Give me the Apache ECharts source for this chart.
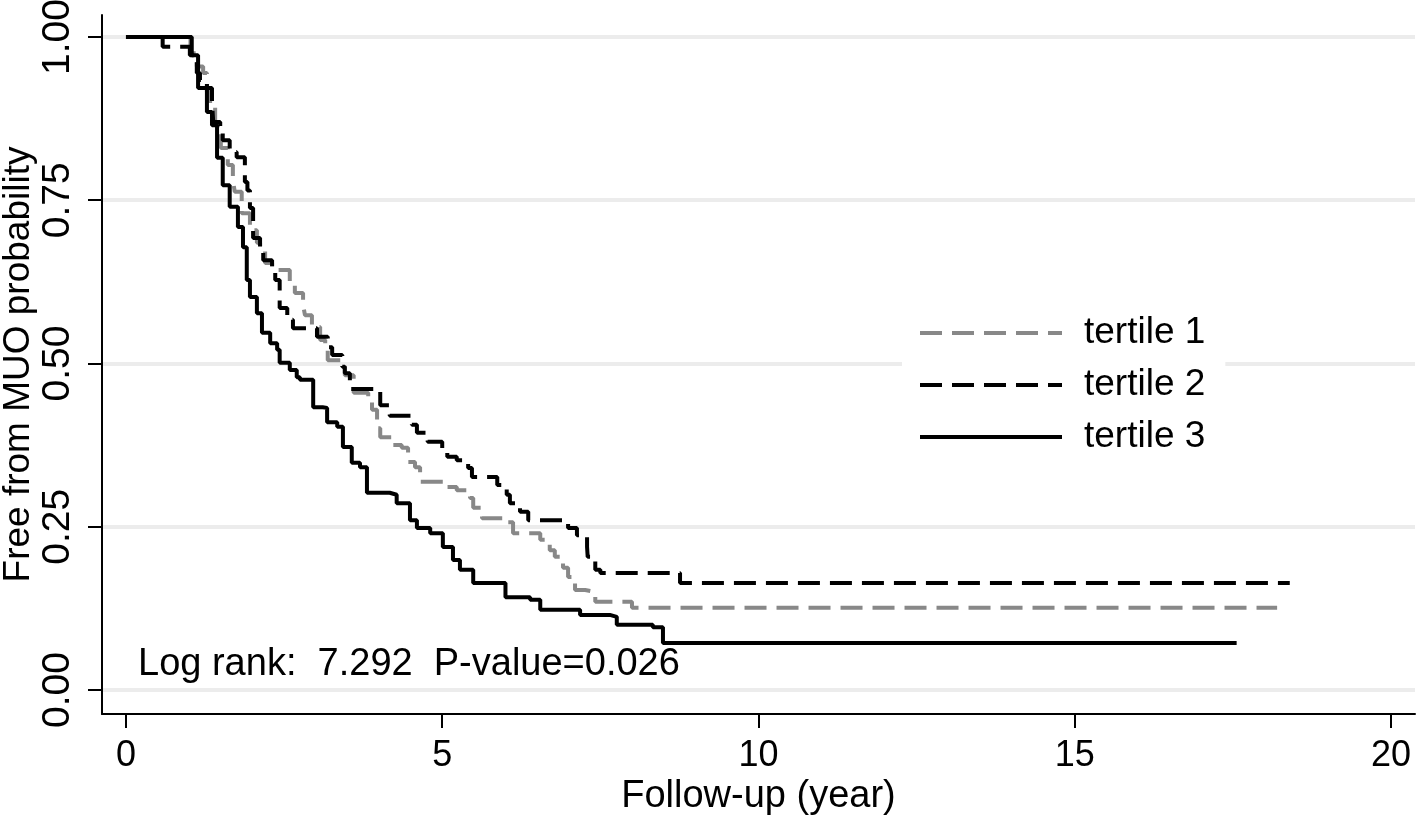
<!DOCTYPE html>
<html>
<head>
<meta charset="utf-8">
<script src="https://cdn.jsdelivr.net/npm/echarts@6/dist/echarts.min.js"></script>
<style>
html,body{margin:0;padding:0;background:#fff;}
#c{width:1416px;height:818px;}
</style>
</head>
<body>
<div id="c"></div>
<script>
// ---- data ----
const seriesNames = ['tertile 1', 'tertile 2', 'tertile 3'];
const xTicks = [0, 5, 10, 15, 20];
const yTicks = [0, 0.25, 0.5, 0.75, 1];
const statText = 'Log rank:  7.292  P-value=0.026';

const t1Time = [0, 1.02, 1.12, 1.22, 1.28, 1.33, 1.41, 1.50, 1.61, 1.69, 1.72, 1.83, 1.96, 2.07, 2.12, 2.20, 2.31, 2.59, 2.67, 2.80, 2.83, 2.94, 3.07, 3.15, 3.19, 3.46, 3.60, 3.83, 3.89, 3.97, 4.02, 4.21, 4.36, 4.46, 4.57, 4.65, 5.04, 5.23, 5.44, 5.49, 5.63, 6.04, 6.12, 6.55, 6.70, 6.78, 6.91, 6.99, 7.10, 7.26, 7.42, 8.00, 18.20];
const t1Surv = [1, 0.975, 0.955, 0.945, 0.916, 0.899, 0.865, 0.830, 0.804, 0.781, 0.763, 0.730, 0.704, 0.685, 0.674, 0.654, 0.643, 0.620, 0.608, 0.590, 0.574, 0.556, 0.536, 0.521, 0.505, 0.482, 0.455, 0.447, 0.429, 0.401, 0.387, 0.375, 0.371, 0.349, 0.341, 0.319, 0.311, 0.306, 0.294, 0.279, 0.263, 0.257, 0.240, 0.230, 0.214, 0.204, 0.187, 0.173, 0.153, 0.150, 0.135, 0.126, 0.126];

const t2Time = [0, 0.58, 1.01, 1.12, 1.17, 1.28, 1.36, 1.38, 1.49, 1.53, 1.64, 1.75, 1.88, 1.92, 1.96, 2.01, 2.12, 2.17, 2.31, 2.36, 2.43, 2.55, 2.64, 3.02, 3.19, 3.26, 3.42, 3.46, 3.54, 4.02, 4.17, 4.52, 4.60, 4.77, 5.00, 5.08, 5.23, 5.41, 5.47, 5.87, 6.02, 6.07, 6.23, 6.36, 6.99, 7.13, 7.29, 7.30, 7.42, 7.50, 8.76, 18.40];
const t2Surv = [1, 0.985, 0.972, 0.945, 0.934, 0.922, 0.899, 0.870, 0.861, 0.842, 0.824, 0.816, 0.778, 0.765, 0.738, 0.692, 0.671, 0.658, 0.643, 0.628, 0.585, 0.567, 0.554, 0.541, 0.525, 0.513, 0.495, 0.485, 0.461, 0.436, 0.420, 0.406, 0.394, 0.380, 0.368, 0.357, 0.352, 0.340, 0.326, 0.314, 0.299, 0.286, 0.273, 0.260, 0.248, 0.237, 0.219, 0.204, 0.184, 0.179, 0.164, 0.164];

const t3Time = [0, 1.00, 1.04, 1.14, 1.28, 1.36, 1.44, 1.53, 1.64, 1.77, 1.85, 1.91, 1.96, 2.07, 2.15, 2.28, 2.39, 2.43, 2.59, 2.70, 2.75, 2.96, 3.11, 3.18, 3.34, 3.43, 3.57, 3.70, 3.81, 4.17, 4.28, 4.49, 4.60, 4.81, 5.01, 5.17, 5.28, 5.49, 6.00, 6.39, 6.55, 7.18, 7.65, 7.76, 8.33, 8.49, 17.56];
const t3Surv = [1, 1, 0.972, 0.922, 0.885, 0.865, 0.815, 0.773, 0.740, 0.709, 0.678, 0.628, 0.602, 0.577, 0.547, 0.531, 0.521, 0.501, 0.490, 0.479, 0.475, 0.433, 0.432, 0.410, 0.403, 0.372, 0.348, 0.341, 0.302, 0.299, 0.286, 0.260, 0.248, 0.240, 0.219, 0.199, 0.184, 0.164, 0.142, 0.138, 0.123, 0.115, 0.112, 0.100, 0.096, 0.072, 0.072];

const pairs = (t, s) => t.map((v, i) => [v, s[i]]);

const FONT = "'Liberation Sans', Arial, Helvetica, sans-serif";
const chart = echarts.init(document.getElementById('c'), null, {renderer: 'canvas'});

chart.setOption({
  animation: false,
  backgroundColor: '#ffffff',
  textStyle: {fontFamily: FONT, color: '#000'},
  grid: {left: 102, right: 1, top: 15, bottom: 104, containLabel: false, outerBoundsMode: 'none'},
  title: {
    text: statText,
    left: 138, top: 646,
    padding: 0,
    textStyle: {fontFamily: FONT, fontSize: 38, fontWeight: 'normal', color: '#000'}
  },
  legend: {
    orient: 'vertical',
    left: 902, top: 303,
    padding: [10, 20, 10, 16],
    backgroundColor: '#ffffff',
    itemWidth: 142, itemHeight: 20, itemGap: 12,
    data: seriesNames,
    lineStyle: {width: 4},
    itemStyle: {color: 'rgba(0,0,0,0)', borderColor: 'rgba(0,0,0,0)', borderWidth: 0, opacity: 0},
    textStyle: {fontFamily: FONT, fontSize: 37, color: '#000', lineHeight: 40, padding: [0, 0, 0, 17]}
  },
  xAxis: {
    type: 'value',
    min: -0.379, max: 20.38,
    name: 'Follow-up (year)',
    nameLocation: 'middle',
    nameGap: 64,
    nameMoveOverlap: false,
    nameTextStyle: {fontFamily: FONT, fontSize: 38, color: '#000'},
    axisLine: {show: true, onZero: false, lineStyle: {color: '#000', width: 2}},
    axisTick: {show: true, length: 14, inside: false, customValues: xTicks, lineStyle: {color: '#000', width: 2}},
    axisLabel: {customValues: xTicks, margin: 24, fontFamily: FONT, fontSize: 36, color: '#000'},
    splitLine: {show: false}
  },
  yAxis: {
    type: 'value',
    min: -0.0368, max: 1.0337,
    name: 'Free from MUO probability',
    nameLocation: 'middle',
    nameRotate: 90,
    nameGap: 65,
    nameMoveOverlap: false,
    nameTextStyle: {fontFamily: FONT, fontSize: 37, color: '#000'},
    axisLine: {show: true, onZero: false, lineStyle: {color: '#000', width: 2}},
    axisTick: {show: true, length: 14, inside: false, customValues: yTicks, lineStyle: {color: '#000', width: 2}},
    axisLabel: {customValues: yTicks, rotate: 90, margin: 24, fontFamily: FONT, fontSize: 39, color: '#000',
      formatter: v => v.toFixed(2)},
    splitLine: {show: true, lineStyle: {color: '#ececec', width: 4}}
  },
  series: [
    {name: seriesNames[0], type: 'line', step: 'end', data: pairs(t1Time, t1Surv), showSymbol: false, symbol: 'none',
      lineStyle: {color: '#888888', width: 4, type: [22, 10]}, itemStyle: {color: '#888888'}, z: 3},
    {name: seriesNames[1], type: 'line', step: 'end', data: pairs(t2Time, t2Surv), showSymbol: false, symbol: 'none',
      lineStyle: {color: '#000000', width: 4, type: [22, 10]}, itemStyle: {color: '#000000'}, z: 4},
    {name: seriesNames[2], type: 'line', step: 'end', data: pairs(t3Time, t3Surv), showSymbol: false, symbol: 'none',
      lineStyle: {color: '#000000', width: 4, type: 'solid'}, itemStyle: {color: '#000000'}, z: 5}
  ]
});
</script>
</body>
</html>
